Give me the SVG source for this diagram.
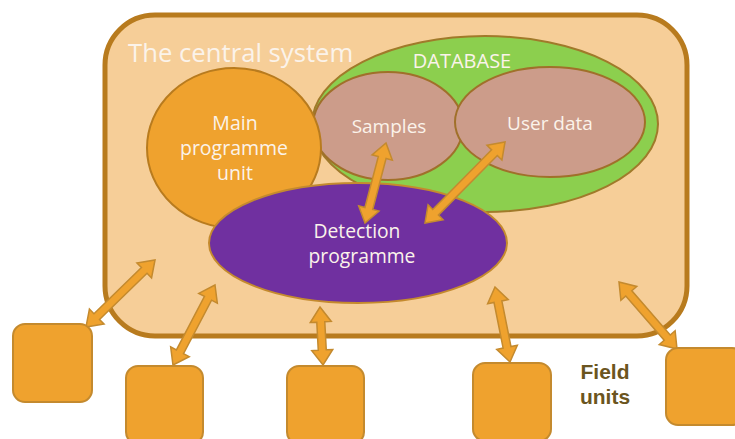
<svg xmlns="http://www.w3.org/2000/svg" width="735" height="439" viewBox="0 0 735 439">
<style>
.lbl{font-family:"Open Sans","Liberation Sans",sans-serif;fill:#FBF3EA;text-anchor:middle}
.unit{fill:#EFA22E;stroke:#C48A2E;stroke-width:2}
.arr{fill:#EFA22E;stroke:#C48A2E;stroke-width:1.5;stroke-linejoin:miter}
.fu{font-family:"Liberation Sans",Arial,sans-serif;font-size:21px;font-weight:bold;fill:#6B5520;text-anchor:middle}
</style>
<rect width="735" height="439" fill="#FFFFFF"/>
<g id="central-system">
<rect x="105" y="15" width="582" height="321" rx="50" ry="50" fill="#F6CE98" stroke="#B87B1E" stroke-width="5"/>
<text class="lbl" x="128" y="62" font-size="25.7" style="text-anchor:start">The central system</text>
</g>
<g id="database">
<ellipse cx="485" cy="124" rx="173" ry="88" fill="#8CCF4E" stroke="#A07A2A" stroke-width="2"/>
<text class="lbl" x="462" y="68" font-size="20">DATABASE</text>
</g>
<g id="samples">
<ellipse cx="388" cy="126" rx="75" ry="54" fill="#CC9C8A" stroke="#A0702A" stroke-width="2"/>
<text class="lbl" x="389" y="133" font-size="19">Samples</text>
</g>
<g id="user-data">
<ellipse cx="550" cy="122" rx="95" ry="55" fill="#CC9C8A" stroke="#A0702A" stroke-width="2"/>
<text class="lbl" x="550" y="130" font-size="19">User data</text>
</g>
<g id="main-programme-unit">
<ellipse cx="234" cy="148" rx="87" ry="80" fill="#EFA22E" stroke="#B87B1E" stroke-width="2"/>
<text class="lbl" x="235" y="130" font-size="19.5">Main</text>
<text class="lbl" x="234" y="155" font-size="19.5">programme</text>
<text class="lbl" x="235" y="180" font-size="19.5">unit</text>
</g>
<g id="detection-programme">
<ellipse cx="358" cy="243" rx="149" ry="60" fill="#7030A0" stroke="#C48A2E" stroke-width="2"/>
<text class="lbl" x="357" y="238" font-size="19.3">Detection</text>
<text class="lbl" x="362" y="263" font-size="19.3">programme</text>
</g>
<g id="connectors">
<polygon class="arr" transform="translate(386,143) rotate(104.7)" points="0,0 15,-10.5 15,-4 67.7,-4 67.7,-10.5 82.7,0 67.7,10.5 67.7,4 15,4 15,10.5"/>
<polygon class="arr" transform="translate(505,142) rotate(134.65)" points="0,0 15,-10.5 15,-4 98.8,-4 98.8,-10.5 113.8,0 98.8,10.5 98.8,4 15,4 15,10.5"/>
<polygon class="arr" transform="translate(155,260) rotate(135.85)" points="0,0 15,-10.5 15,-4 81.2,-4 81.2,-10.5 96.2,0 81.2,10.5 81.2,4 15,4 15,10.5"/>
<polygon class="arr" transform="translate(215,285) rotate(117.7)" points="0,0 15,-10.5 15,-4 75.4,-4 75.4,-10.5 90.4,0 75.4,10.5 75.4,4 15,4 15,10.5"/>
<polygon class="arr" transform="translate(320,307) rotate(87)" points="0,0 15,-10.5 15,-4 43.1,-4 43.1,-10.5 58.1,0 43.1,10.5 43.1,4 15,4 15,10.5"/>
<polygon class="arr" transform="translate(495,287) rotate(78.7)" points="0,0 15,-10.5 15,-4 61.5,-4 61.5,-10.5 76.5,0 61.5,10.5 61.5,4 15,4 15,10.5"/>
<polygon class="arr" transform="translate(619,282) rotate(49.1)" points="0,0 15,-10.5 15,-4 73.6,-4 73.6,-10.5 88.6,0 73.6,10.5 73.6,4 15,4 15,10.5"/>
</g>
<g id="field-unit-1"><rect class="unit" x="13" y="324" width="79" height="78" rx="12"/></g>
<g id="field-unit-2"><rect class="unit" x="126" y="366" width="77" height="78" rx="12"/></g>
<g id="field-unit-3"><rect class="unit" x="287" y="366" width="77" height="78" rx="12"/></g>
<g id="field-unit-4"><rect class="unit" x="473" y="363" width="78" height="78" rx="12"/></g>
<g id="field-unit-5"><rect class="unit" x="666" y="348" width="78" height="77" rx="12"/></g>
<g id="field-units-label">
<text class="fu" x="605" y="379">Field</text>
<text class="fu" x="605" y="404">units</text>
</g>
</svg>
